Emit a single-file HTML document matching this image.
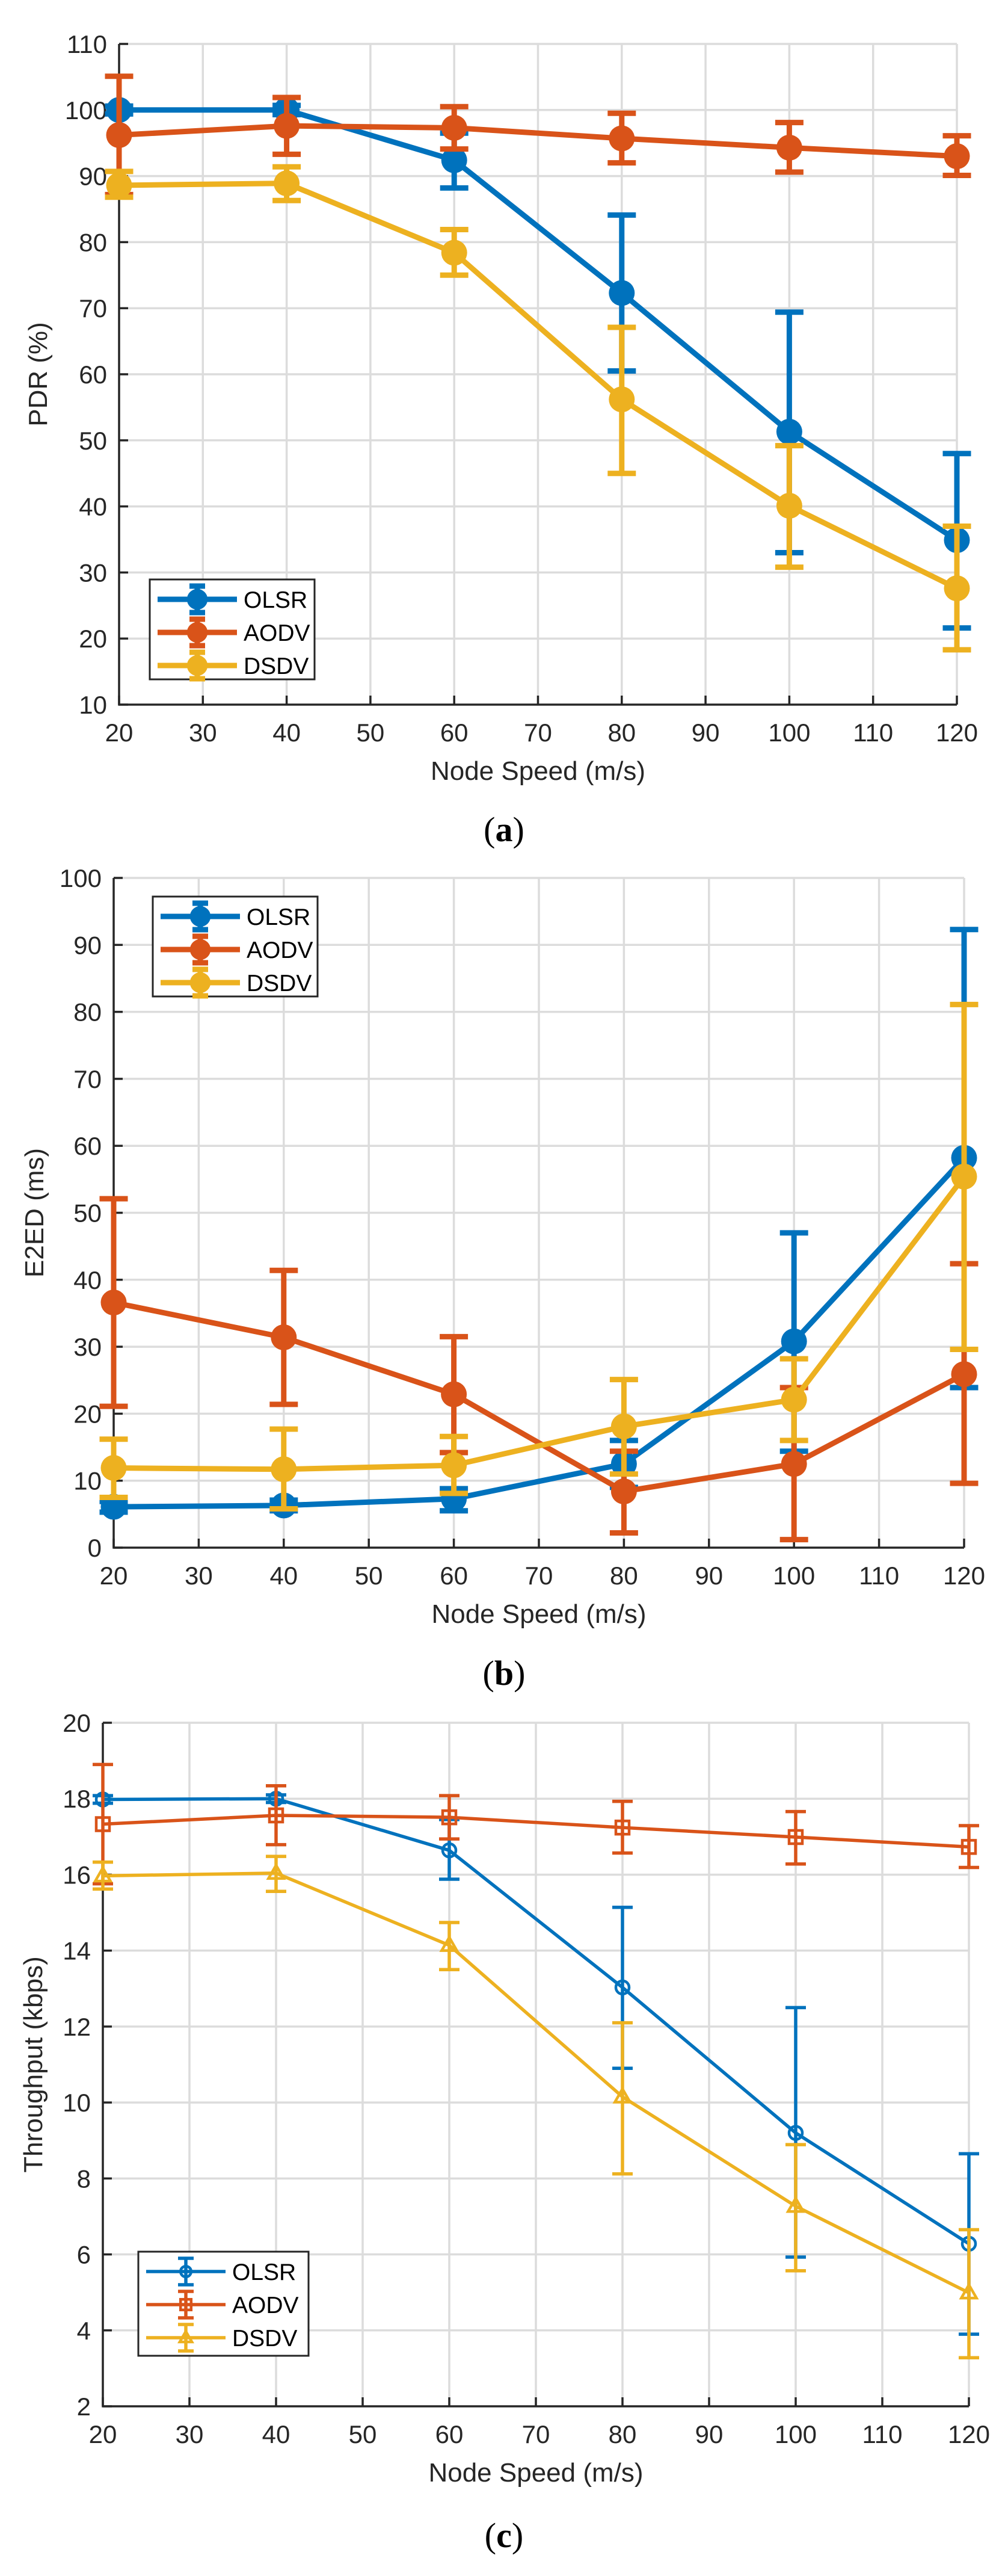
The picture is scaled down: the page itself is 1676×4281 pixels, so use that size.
<!DOCTYPE html>
<html><head><meta charset="utf-8"><style>
html,body{margin:0;padding:0;background:#fff;}
svg{display:block;font-family:"Liberation Sans",Arial,sans-serif;}
</style></head><body>
<svg id="fig" width="1676" height="4281" viewBox="0 0 1676 4281" xmlns="http://www.w3.org/2000/svg"></svg>
<script>
// ---------- data ----------
const speeds = [20, 40, 60, 80, 100, 120];
const xTicks = [20, 30, 40, 50, 60, 70, 80, 90, 100, 110, 120];
const seriesNames = ['OLSR', 'AODV', 'DSDV'];

// (a) PDR (%)
const pdrOlsr = [100, 100, 92.4, 72.3, 51.3, 34.9];
const pdrOlsrHi = [100.6, 100.7, 96.5, 84.1, 69.4, 48.0];
const pdrOlsrLo = [99.4, 99.3, 88.2, 60.5, 33.0, 21.6];
const pdrAodv = [96.2, 97.6, 97.3, 95.7, 94.3, 93.0];
const pdrAodvHi = [105.1, 101.9, 100.5, 99.5, 98.1, 96.1];
const pdrAodvLo = [87.2, 93.3, 94.1, 92.0, 90.6, 90.1];
const pdrDsdv = [88.6, 88.9, 78.4, 56.2, 40.1, 27.6];
const pdrDsdvHi = [90.7, 91.4, 81.9, 67.1, 49.2, 37.0];
const pdrDsdvLo = [86.8, 86.3, 75.0, 45.0, 30.8, 18.3];
const pdrYTicks = [10, 20, 30, 40, 50, 60, 70, 80, 90, 100, 110];

// (b) E2ED (ms)
const e2eOlsr = [6.1, 6.3, 7.3, 12.5, 30.8, 58.2];
const e2eOlsrHi = [6.9, 7.1, 8.8, 16.0, 47.0, 92.3];
const e2eOlsrLo = [5.3, 5.5, 5.5, 9.0, 14.4, 23.9];
const e2eAodv = [36.6, 31.4, 22.9, 8.4, 12.5, 25.9];
const e2eAodvHi = [52.1, 41.4, 31.5, 14.4, 23.9, 42.4];
const e2eAodvLo = [21.1, 21.4, 14.2, 2.2, 1.2, 9.6];
const e2eDsdv = [11.9, 11.7, 12.3, 18.1, 22.1, 55.4];
const e2eDsdvHi = [16.2, 17.7, 16.6, 25.1, 28.2, 81.1];
const e2eDsdvLo = [7.5, 5.8, 8.1, 11.0, 16.0, 29.6];
const e2eYTicks = [0, 10, 20, 30, 40, 50, 60, 70, 80, 90, 100];

// (c) Throughput (kbps)
const thrOlsr = [17.98, 18.0, 16.64, 13.03, 9.2, 6.28];
const thrOlsrHi = [18.08, 18.1, 17.45, 15.14, 12.5, 8.65];
const thrOlsrLo = [17.88, 17.9, 15.88, 10.9, 5.93, 3.9];
const thrAodv = [17.33, 17.56, 17.51, 17.24, 16.99, 16.73];
const thrAodvHi = [18.9, 18.34, 18.08, 17.93, 17.66, 17.29];
const thrAodvLo = [15.76, 16.79, 16.94, 16.57, 16.28, 16.19];
const thrDsdv = [15.97, 16.04, 14.14, 10.15, 7.27, 4.99];
const thrDsdvHi = [16.33, 16.48, 14.74, 12.1, 8.89, 6.65];
const thrDsdvLo = [15.62, 15.56, 13.5, 8.12, 5.57, 3.28];
const thrYTicks = [2, 4, 6, 8, 10, 12, 14, 16, 18, 20];

const colors = ['#0072BD', '#D95319', '#EDB120'];
const NS = 'http://www.w3.org/2000/svg';
const svg = document.getElementById('fig');

function mk(tag, attrs, parent) {
  const e = document.createElementNS(NS, tag);
  for (const k in attrs) e.setAttribute(k, attrs[k]);
  (parent || svg).appendChild(e);
  return e;
}

function marker(g, kind, cx, cy, color, s) {
  if (kind === 'filled') {
    const m = mk('circle', {cx: cx, cy: cy, r: s, fill: color}, g);
    
    
  } else if (kind === 'circle') {
    const m = mk('circle', {cx: cx, cy: cy, r: s, fill: 'none', stroke: color, 'stroke-width': 4.5}, g);
    
    
  } else if (kind === 'square') {
    const m = mk('rect', {x: cx - s, y: cy - s, width: 2 * s, height: 2 * s, fill: 'none', stroke: color, 'stroke-width': 4.5}, g);
    
    
  } else {
    const m = mk('polygon', {points: (cx) + ',' + (cy - s * 1.2) + ' ' + (cx + s * 1.15) + ',' + (cy + s * 0.8) + ' ' + (cx - s * 1.15) + ',' + (cy + s * 0.8), fill: 'none', stroke: color, 'stroke-width': 4.5}, g);
    
    
  }
}

function chart(c) {
  const g = mk('g', {});
  
  
  const xs = v => c.L + (v - 20) / 100 * (c.R - c.L);
  const ys = v => c.B - (v - c.ymin) / (c.ymax - c.ymin) * (c.B - c.T);
  const grid = mk('g', {stroke: '#dcdcdc', 'stroke-width': 3.5}, g);
  
  
  xTicks.forEach(t => { if (t > 20) mk('line', {x1: xs(t), x2: xs(t), y1: c.T, y2: c.B}, grid); });
  c.yTicks.forEach(t => { if (t > c.ymin) mk('line', {x1: c.L, x2: c.R, y1: ys(t), y2: ys(t)}, grid); });
  const ax = mk('g', {stroke: '#262626', 'stroke-width': 3.5, fill: 'none'}, g);
  
  
  mk('path', {d: 'M' + c.L + ',' + c.T + 'V' + c.B + 'H' + c.R}, ax);
  xTicks.forEach(t => mk('line', {x1: xs(t), x2: xs(t), y1: c.B, y2: c.B - 15}, ax));
  c.yTicks.forEach(t => mk('line', {x1: c.L, x2: c.L + 15, y1: ys(t), y2: ys(t)}, ax));
  const xl = mk('g', {'font-size': 42, fill: '#262626', 'text-anchor': 'middle'}, g);
  
  
  xTicks.forEach(t => { const e = mk('text', {x: xs(t), y: c.B + 61}, xl); e.textContent = t; });
  const yl = mk('g', {'font-size': 42, fill: '#262626', 'text-anchor': 'end'}, g);
  
  
  c.yTicks.forEach(t => { const e = mk('text', {x: c.L - 20, y: ys(t) + 15}, yl); e.textContent = t; });
  const xt = mk('text', {x: (c.L + c.R) / 2, y: c.B + 125, 'font-size': 44, fill: '#262626', 'text-anchor': 'middle'}, g);
  
  
  xt.textContent = 'Node Speed (m/s)';
  const yt = mk('text', {x: 0, y: 0, 'font-size': 44, fill: '#262626', 'text-anchor': 'middle', transform: 'translate(' + (c.ytx) + ',' + ((c.T + c.B) / 2) + ') rotate(-90)'}, g);
  
  
  yt.textContent = c.ytitle;
  const cap = mk('text', {x: 838, y: c.capY, 'font-size': 58, fill: '#000', 'text-anchor': 'middle', 'font-family': '"Liberation Serif", serif'}, g);
  
  
  cap.innerHTML = '(<tspan font-weight="bold">' + c.cap + '</tspan>)';
  c.series.forEach((s, i) => {
    const sg = mk('g', {}, g);
    
    
    const col = colors[i];
    const eb = mk('g', {stroke: col, 'stroke-width': c.lw, fill: 'none'}, sg);
    
    
    s.v.forEach((v, k) => {
      const x = xs(speeds[k]);
      mk('line', {x1: x, x2: x, y1: ys(s.hi[k]), y2: ys(s.lo[k])}, eb);
      mk('line', {x1: x - c.cap2, x2: x + c.cap2, y1: ys(s.hi[k]), y2: ys(s.hi[k])}, eb);
      mk('line', {x1: x - c.cap2, x2: x + c.cap2, y1: ys(s.lo[k]), y2: ys(s.lo[k])}, eb);
    });
    const pl = mk('polyline', {points: s.v.map((v, k) => xs(speeds[k]) + ',' + ys(v)).join(' '), fill: 'none', stroke: col, 'stroke-width': c.lw, 'stroke-linejoin': 'round'}, sg);
    
    
    s.v.forEach((v, k) => marker(sg, c.markers[i], xs(speeds[k]), ys(v), col, c.ms));
  });
  const lg = mk('g', {}, g);
  
  
  mk('rect', {x: c.lg.x, y: c.lg.y, width: c.lg.w, height: c.lg.h, fill: '#fff', stroke: '#262626', 'stroke-width': 3}, lg);
  seriesNames.forEach((n, i) => {
    const ry = c.lg.y + 33 + i * 55;
    const col = colors[i];
    const le = mk('g', {}, lg);
    
    
    mk('line', {x1: c.lg.x + 13, x2: c.lg.x + 145, y1: ry, y2: ry, stroke: col, 'stroke-width': c.lw}, le);
    const mx = c.lg.x + 79;
    mk('line', {x1: mx, x2: mx, y1: ry - 22, y2: ry + 22, stroke: col, 'stroke-width': c.lw}, le);
    mk('line', {x1: mx - 13, x2: mx + 13, y1: ry - 22, y2: ry - 22, stroke: col, 'stroke-width': c.lw}, le);
    mk('line', {x1: mx - 13, x2: mx + 13, y1: ry + 22, y2: ry + 22, stroke: col, 'stroke-width': c.lw}, le);
    marker(le, c.markers[i], mx, ry, col, c.ms * 0.8);
    const t = mk('text', {x: c.lg.x + 156, y: ry + 14, 'font-size': 39, fill: '#000'}, le);
    t.textContent = n;
  });
}

chart({name: 'pdr-chart', L: 198, R: 1591, T: 73, B: 1171, ymin: 10, ymax: 110, yTicks: pdrYTicks,
  ytitle: 'PDR (%)', ytx: 78, cap: 'a', capY: 1398, lw: 9, cap2: 23.5, ms: 21.5,
  markers: ['filled', 'filled', 'filled'],
  lg: {x: 249, y: 963, w: 274, h: 166},
  series: [{v: pdrOlsr, hi: pdrOlsrHi, lo: pdrOlsrLo}, {v: pdrAodv, hi: pdrAodvHi, lo: pdrAodvLo}, {v: pdrDsdv, hi: pdrDsdvHi, lo: pdrDsdvLo}]});

chart({name: 'e2ed-chart', L: 189, R: 1603, T: 1459, B: 2572, ymin: 0, ymax: 100, yTicks: e2eYTicks,
  ytitle: 'E2ED (ms)', ytx: 72, cap: 'b', capY: 2800, lw: 9, cap2: 23.5, ms: 21.5,
  markers: ['filled', 'filled', 'filled'],
  lg: {x: 254, y: 1490, w: 274, h: 166},
  series: [{v: e2eOlsr, hi: e2eOlsrHi, lo: e2eOlsrLo}, {v: e2eAodv, hi: e2eAodvHi, lo: e2eAodvLo}, {v: e2eDsdv, hi: e2eDsdvHi, lo: e2eDsdvLo}]});

chart({name: 'throughput-chart', L: 171, R: 1611, T: 2863, B: 3999, ymin: 2, ymax: 20, yTicks: thrYTicks,
  ytitle: 'Throughput (kbps)', ytx: 70, cap: 'c', capY: 4233, lw: 5.5, cap2: 17, ms: 11,
  markers: ['circle', 'square', 'triangle'],
  lg: {x: 230, y: 3742, w: 283, h: 173},
  series: [{v: thrOlsr, hi: thrOlsrHi, lo: thrOlsrLo}, {v: thrAodv, hi: thrAodvHi, lo: thrAodvLo}, {v: thrDsdv, hi: thrDsdvHi, lo: thrDsdvLo}]});
</script>
</body></html>
